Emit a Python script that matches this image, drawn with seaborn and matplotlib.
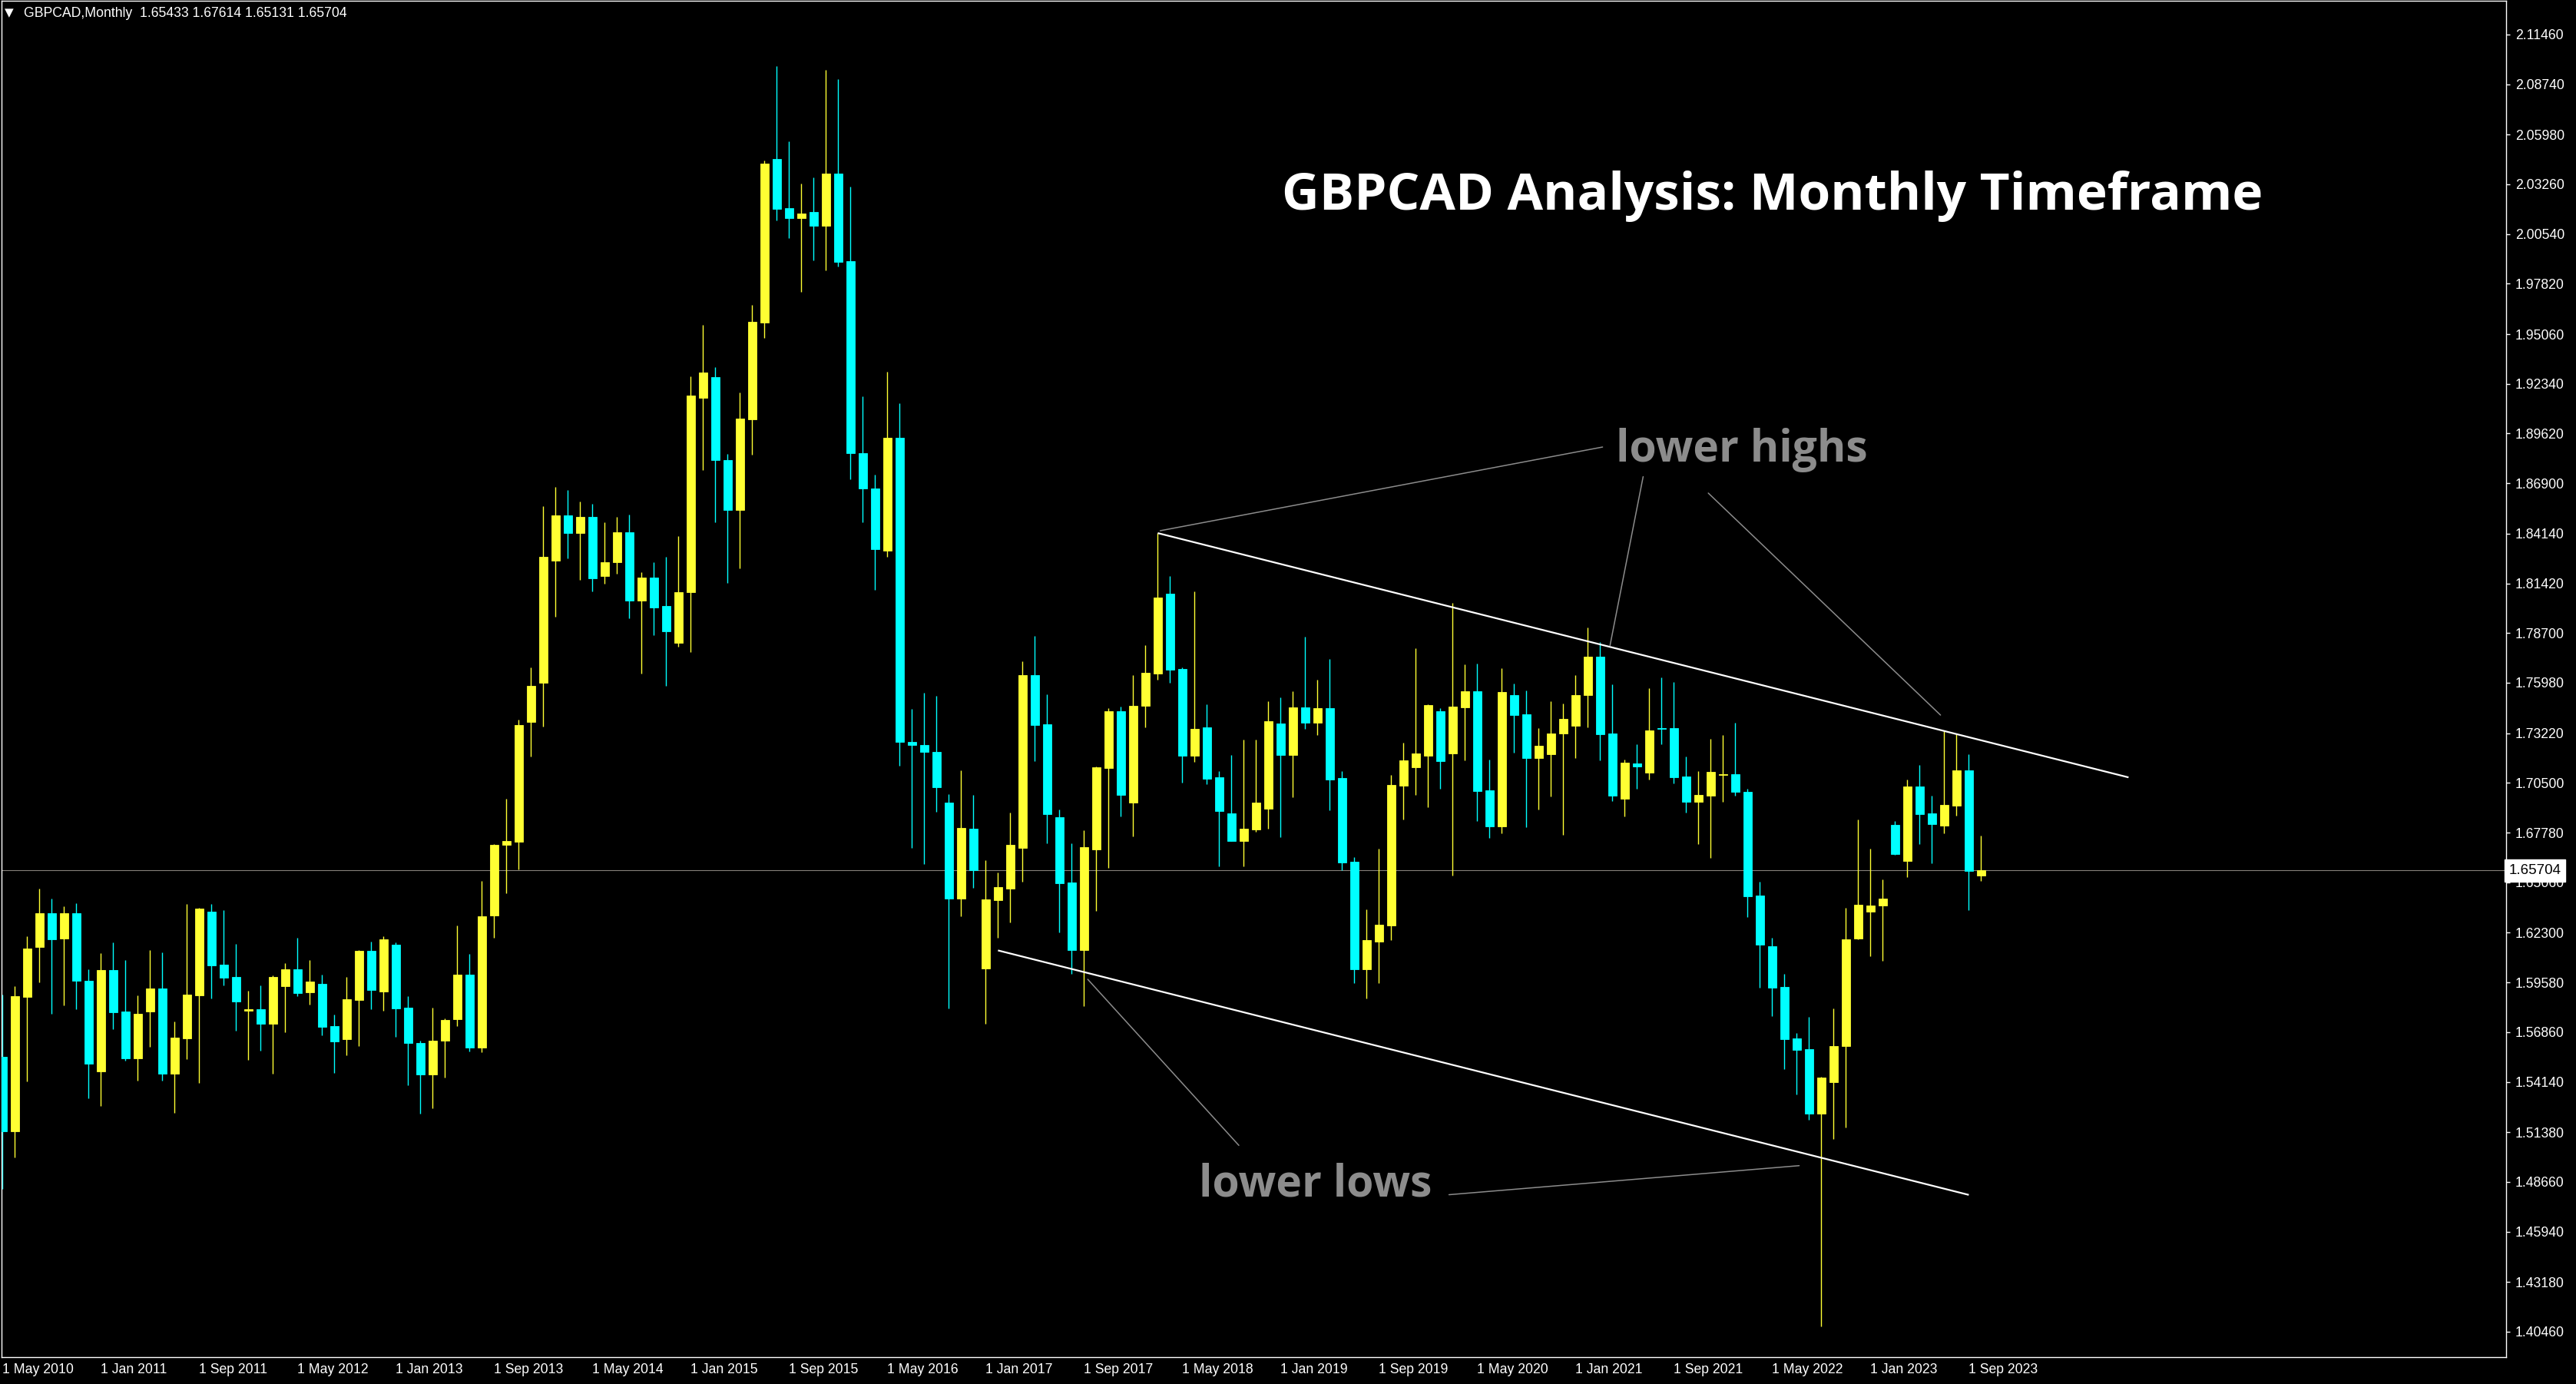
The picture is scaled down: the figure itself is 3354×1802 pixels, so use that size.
import matplotlib
matplotlib.use("Agg")
import matplotlib.pyplot as plt
import matplotlib.transforms as mtransforms
import numpy as np
import pandas as pd
import seaborn as sns

# monthly GBPCAD candles, May 2010 .. Oct 2023
opens = [
    1.5550, 1.5144, 1.5879, 1.6152, 1.6335, 1.6198, 1.6335, 1.5966, 1.5471, 1.6025,
    1.5798, 1.5543, 1.5799, 1.5924, 1.5459, 1.5652, 1.5887, 1.6344, 1.6054, 1.5987,
    1.5803, 1.5810, 1.5732, 1.5938, 1.6029, 1.5904, 1.5949, 1.5718, 1.5648, 1.5862,
    1.6130, 1.5908, 1.6163, 1.5819, 1.5626, 1.5452, 1.5637, 1.5758, 1.6002, 1.5603,
    1.6326, 1.6709, 1.6729, 1.7382, 1.7596, 1.8265, 1.8515, 1.8416, 1.8506, 1.8181,
    1.8256, 1.8421, 1.8046, 1.8174, 1.8018, 1.7818, 1.8093, 1.9159, 1.9270, 1.8818,
    1.8545, 1.9041, 1.9570, 2.0465, 2.0195, 2.0142, 2.0173, 2.0097, 2.0384, 1.9907,
    1.8855, 1.8662, 1.8319, 1.8938, 1.7275, 1.7258, 1.7220, 1.6940, 1.6417, 1.6798,
    1.6035, 1.6410, 1.6473, 1.6696, 1.7639, 1.7371, 1.6863, 1.6506, 1.6137, 1.6687,
    1.7132, 1.7441, 1.6944, 1.7470, 1.7650, 1.8086, 1.7673, 1.7200, 1.7354, 1.7081,
    1.6883, 1.6733, 1.6796, 1.6910, 1.7375, 1.7204, 1.7463, 1.7381, 1.7459, 1.7077,
    1.6618, 1.6031, 1.6183, 1.6271, 1.7034, 1.7135, 1.7198, 1.7442, 1.7211, 1.7463,
    1.7551, 1.7009, 1.6813, 1.7530, 1.7425, 1.7187, 1.7208, 1.7322, 1.7363, 1.7532,
    1.7741, 1.7321, 1.6965, 1.7157, 1.7108, 1.7351, 1.7351, 1.7086, 1.6945, 1.6981,
    1.7094, 1.7098, 1.7000, 1.6434, 1.6155, 1.5933, 1.5652, 1.5592, 1.5238, 1.5414,
    1.5608, 1.6197, 1.6346, 1.6377, 1.6821, 1.6623, 1.7030, 1.6883, 1.6815, 1.6927,
    1.7118, 1.65433,
]
highs = [
    1.5890, 1.5936, 1.6209, 1.6470, 1.6415, 1.6373, 1.6390, 1.6029, 1.6117, 1.6176,
    1.6079, 1.5886, 1.6134, 1.6121, 1.5743, 1.6386, 1.6366, 1.6386, 1.6352, 1.6167,
    1.5911, 1.5941, 1.5995, 1.6062, 1.6201, 1.6079, 1.5999, 1.5781, 1.5987, 1.6134,
    1.6180, 1.6209, 1.6175, 1.5882, 1.5639, 1.5819, 1.5761, 1.6270, 1.6114, 1.6513,
    1.6715, 1.6963, 1.7396, 1.7681, 1.8564, 1.8670, 1.8652, 1.8589, 1.8578, 1.8477,
    1.8507, 1.8517, 1.8202, 1.8258, 1.8288, 1.8402, 1.9275, 1.9558, 1.9326, 1.8850,
    1.9187, 1.9665, 2.0456, 2.0973, 2.0561, 2.0329, 2.0363, 2.0951, 2.0903, 2.0315,
    1.9167, 1.8738, 1.9301, 1.9129, 1.7455, 1.7545, 1.7527, 1.6988, 1.7119, 1.6985,
    1.6626, 1.6559, 1.6888, 1.7716, 1.7854, 1.7535, 1.6904, 1.6719, 1.6791, 1.7140,
    1.7459, 1.7468, 1.7639, 1.7804, 1.8417, 1.8181, 1.7680, 1.8100, 1.7480, 1.7114,
    1.7203, 1.7287, 1.7287, 1.7497, 1.7518, 1.7552, 1.7850, 1.7615, 1.7728, 1.7114,
    1.6644, 1.6358, 1.6690, 1.7093, 1.7270, 1.7787, 1.7480, 1.7459, 1.8035, 1.7699,
    1.7703, 1.7177, 1.7678, 1.7594, 1.7556, 1.7350, 1.7497, 1.7484, 1.7640, 1.7900,
    1.7820, 1.7589, 1.7178, 1.7262, 1.7568, 1.7628, 1.7601, 1.7194, 1.7115, 1.7291,
    1.7312, 1.7378, 1.7016, 1.6507, 1.6202, 1.6006, 1.5680, 1.5768, 1.5441, 1.5817,
    1.6366, 1.6850, 1.6689, 1.6522, 1.6841, 1.7067, 1.7149, 1.6979, 1.7336, 1.7314,
    1.7206, 1.67614,
]
lows = [
    1.4828, 1.5001, 1.5417, 1.5959, 1.5786, 1.5833, 1.5812, 1.5324, 1.5282, 1.5702,
    1.5530, 1.5421, 1.5606, 1.5421, 1.5244, 1.5539, 1.5408, 1.5870, 1.5942, 1.5694,
    1.5534, 1.5585, 1.5459, 1.5686, 1.5883, 1.5837, 1.5669, 1.5463, 1.5560, 1.5610,
    1.5812, 1.5803, 1.5660, 1.5396, 1.5241, 1.5268, 1.5436, 1.5720, 1.5578, 1.5574,
    1.6204, 1.6445, 1.6578, 1.7193, 1.7357, 1.7958, 1.8280, 1.8163, 1.8100, 1.8142,
    1.8194, 1.7949, 1.7650, 1.7857, 1.7580, 1.7797, 1.7765, 1.8764, 1.8475, 1.8146,
    1.8226, 1.8848, 1.9483, 2.0130, 2.0030, 1.9737, 1.9910, 1.9855, 1.9876, 1.8710,
    1.8475, 1.8108, 1.8285, 1.7144, 1.6694, 1.6604, 1.6891, 1.5816, 1.6321, 1.6476,
    1.5733, 1.6204, 1.6288, 1.6511, 1.7170, 1.6721, 1.6233, 1.6004, 1.5830, 1.6348,
    1.6586, 1.6868, 1.6759, 1.7355, 1.7616, 1.7599, 1.7053, 1.7164, 1.7044, 1.6595,
    1.6733, 1.6595, 1.6784, 1.6800, 1.6754, 1.6973, 1.7344, 1.7313, 1.6901, 1.6574,
    1.5956, 1.5872, 1.5956, 1.6191, 1.6851, 1.6985, 1.6918, 1.7019, 1.6544, 1.7175,
    1.6842, 1.6750, 1.6775, 1.7217, 1.6809, 1.6906, 1.6977, 1.6767, 1.7187, 1.7355,
    1.7175, 1.6951, 1.6868, 1.7016, 1.7066, 1.7260, 1.7049, 1.6889, 1.6716, 1.6641,
    1.6948, 1.6981, 1.6314, 1.5927, 1.5775, 1.5482, 1.5346, 1.5208, 1.4075, 1.5100,
    1.5166, 1.6192, 1.6100, 1.6074, 1.6656, 1.6533, 1.6713, 1.6608, 1.6775, 1.6872,
    1.6355, 1.65131,
]
closes = [
    1.5144, 1.5882, 1.6142, 1.6335, 1.6194, 1.6335, 1.5967, 1.5513, 1.6025, 1.5795,
    1.5543, 1.5785, 1.5924, 1.5459, 1.5655, 1.5890, 1.6361, 1.6051, 1.5984, 1.5854,
    1.5810, 1.5732, 1.5987, 1.6029, 1.5900, 1.5962, 1.5715, 1.5635, 1.5865, 1.6130,
    1.5917, 1.6193, 1.5817, 1.5626, 1.5452, 1.5639, 1.5752, 1.6002, 1.5599, 1.6319,
    1.6711, 1.6731, 1.7366, 1.7580, 1.8287, 1.8515, 1.8416, 1.8506, 1.8168, 1.8258,
    1.8421, 1.8046, 1.8174, 1.8011, 1.7878, 1.8093, 1.9169, 1.9296, 1.8816, 1.8545,
    1.9043, 1.9573, 2.0439, 2.0192, 2.0140, 2.0166, 2.0097, 2.0384, 1.9903, 1.8855,
    1.8662, 1.8330, 1.8938, 1.7275, 1.7258, 1.7220, 1.7026, 1.6417, 1.6805, 1.6573,
    1.6412, 1.6481, 1.6710, 1.7639, 1.7368, 1.6881, 1.6502, 1.6137, 1.6698, 1.7136,
    1.7441, 1.6982, 1.7472, 1.7652, 1.8065, 1.7671, 1.7200, 1.7346, 1.7074, 1.6897,
    1.6733, 1.6799, 1.6942, 1.7388, 1.7204, 1.7463, 1.7381, 1.7459, 1.7070, 1.6616,
    1.6031, 1.6190, 1.6274, 1.7039, 1.7173, 1.7211, 1.7476, 1.7169, 1.7467, 1.7551,
    1.7006, 1.6813, 1.7547, 1.7423, 1.7187, 1.7253, 1.7320, 1.7400, 1.7530, 1.7741,
    1.7317, 1.6978, 1.7161, 1.7138, 1.7337, 1.7347, 1.7082, 1.6945, 1.6985, 1.7110,
    1.7098, 1.6999, 1.6430, 1.6166, 1.5930, 1.5649, 1.5590, 1.5238, 1.5436, 1.5610,
    1.6195, 1.6384, 1.6379, 1.6417, 1.6661, 1.7030, 1.6881, 1.6823, 1.6929, 1.7118,
    1.6566, 1.65704,
]

first_month = "2010-05-01"
label_every = 8
price_ticks = [2.11460, 2.08740, 2.05980, 2.03260, 2.00540, 1.97820, 1.95060,
               1.92340, 1.89620, 1.86900, 1.84140, 1.81420, 1.78700, 1.75980,
               1.73220, 1.70500, 1.67780, 1.65060, 1.62300, 1.59580, 1.56860,
               1.54140, 1.51380, 1.48660, 1.45940, 1.43180, 1.40460]
last_price = 1.65704

# trend lines (bar index, price)
upper_trend = [(94, 1.8417), (173, 1.7080)]
lower_trend = [(81, 1.6133), (160, 1.4795)]
# pointer lines from the labels
high_pointers = [[(130.2, 1.8888), (94.2, 1.8430)],
                 [(133.5, 1.8726), (130.8, 1.7800)],
                 [(138.8, 1.8636), (157.7, 1.7421)]]
low_pointers = [[(100.6, 1.5066), (88.3, 1.5975)],
                [(117.7, 1.4796), (146.2, 1.4955)]]

BULL = "#ffff33"
BEAR = "#00ffff"
GREY = "#8c8c8c"

sns.set_theme(style="dark", rc={
    "figure.facecolor": "black", "axes.facecolor": "black",
    "axes.edgecolor": "white", "text.color": "white",
    "xtick.color": "white", "ytick.color": "white",
    "axes.grid": False,
})
plt.rcParams["font.family"] = ["Liberation Sans", "DejaVu Sans"]

df = pd.DataFrame({"open": opens, "high": highs, "low": lows, "close": closes})
df["idx"] = np.arange(len(df))
df["date"] = pd.date_range(first_month, periods=len(df), freq="MS")
df["bull"] = df["close"] >= df["open"]
df["color"] = np.where(df["bull"], BULL, BEAR)

W, H = 3355, 1802
fig = plt.figure(figsize=(W / 100, H / 100), dpi=100)
ax = fig.add_axes([2 / W, 1 - 1767 / H, (3263 - 2) / W, (1767 - 1) / H])

# wicks and bodies
ax.vlines(df["idx"], df["low"], df["high"], colors=df["color"], linewidth=1.0, zorder=2)
ax.bar(df["idx"], (df["close"] - df["open"]).abs(), bottom=df[["open", "close"]].min(axis=1),
       width=0.64, color=df["color"], edgecolor=df["color"], linewidth=0.6, zorder=3)

ax.axhline(last_price, color="#85807a", linewidth=0.8, zorder=1)

for pts in (upper_trend, lower_trend):
    xs, ys = zip(*pts)
    ax.plot(xs, ys, color="white", linewidth=1.6, zorder=4, solid_capstyle="butt")
for seg in high_pointers + low_pointers:
    xs, ys = zip(*seg)
    ax.plot(xs, ys, color=GREY, linewidth=1.1, zorder=4)

ax.text(141.5, 1.8870, "lower highs", color=GREY, fontsize=41, fontweight="bold",
        family=["Open Sans", "DejaVu Sans"], ha="center", va="center")
ax.text(106.8, 1.4850, "lower lows", color=GREY, fontsize=41, fontweight="bold",
        family=["Open Sans", "DejaVu Sans"], ha="center", va="center")
ax.text(144, 2.0262, "GBPCAD Analysis: Monthly Timeframe", color="white", fontsize=48.6,
        fontweight="bold", family=["Open Sans", "DejaVu Sans"], ha="center", va="center")

# header line
fig.text(6 / W, 1 - 17 / H, "\u25bc", fontsize=11, color="white", va="center",
         family=["DejaVu Sans"])
fig.text(31 / W, 1 - 17 / H, "GBPCAD,Monthly  1.65433 1.67614 1.65131 1.65704",
         fontsize=12.7, color="white", va="center")

# axes limits in bar / price units
ax.set_xlim((2 - 3.4) / 16, (3263 - 3.4) / 16)
ax.set_ylim(1.65704 - (1767 - 1133.4) / 2379, 1.65704 - (1 - 1133.4) / 2379)

ax.yaxis.tick_right()
ax.set_yticks(price_ticks)
ax.set_yticklabels([f"{p:.5f}" for p in price_ticks])
ax.tick_params(axis="y", length=3.6, width=1, pad=5, labelsize=12.7, direction="out")

xt = df["idx"][::label_every]
ax.set_xticks(xt)
ax.set_xticklabels([f"{d.day} {d.strftime('%b')} {d.year}" for d in df["date"][::label_every]],
                   ha="left")
ax.tick_params(axis="x", length=3.6, width=1, pad=2, labelsize=12.7, direction="out")

for s in ax.spines.values():
    s.set_color("white")
    s.set_linewidth(1.0)

trans = mtransforms.blended_transform_factory(ax.transAxes, ax.transData)
ax.text(1.001, last_price, "1.65704", transform=trans, color="black", fontsize=13.5,
        ha="left", va="center", zorder=10, clip_on=False,
        bbox=dict(boxstyle="square,pad=0.3", facecolor="white", edgecolor="white"))

fig.savefig("out.png", dpi=100, facecolor="black")
